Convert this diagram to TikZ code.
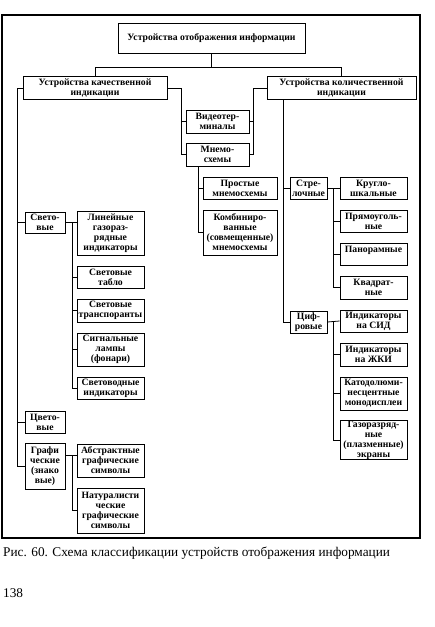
\documentclass[tikz,border=0pt]{standalone}
\usepackage{fontspec}
\setmainfont{Liberation Serif}
\newcommand{\boxfont}{\fontsize{9.7}{10}\selectfont\bfseries}
\tikzset{
  box/.style={draw, line width=0.8pt, fill=white, align=center, inner sep=0.5pt, font=\boxfont},
  link/.style={line width=0.8pt},
}

\begin{document}
\begin{tikzpicture}[x=1pt,y=-1pt]
  \useasboundingbox (0,0) rectangle (435,627);
  \draw[line width=2.5pt] (2,15) rectangle (420,538);

  % top levels
  \node[box, minimum width=187pt, minimum height=30pt] (top) at (211.5,38) {Устройства отображения информации};
  \node[box, minimum width=144pt, minimum height=23pt] (qual) at (95,88) {Устройства качественной\\индикации};
  \node[box, minimum width=149pt, minimum height=23pt] (quant) at (341.5,88) {Устройства количественной\\индикации};

  % middle column
  \node[box, minimum width=63pt, minimum height=23pt] (video) at (217.5,121.5) {Видеотер-\\миналы};
  \node[box, minimum width=63pt, minimum height=23pt] (mnemo) at (217.5,154.5) {Мнемо-\\схемы};
  \node[box, minimum width=74pt, minimum height=22pt] (prost) at (240,188) {Простые\\мнемосхемы};
  \node[box, minimum width=74pt, minimum height=45pt] (komb) at (240,232.5) {Комбиниро-\\ванные\\(совмещенные)\\мнемосхемы};

  % right column
  \node[box, minimum width=37pt, minimum height=22pt] (strel) at (308.5,188) {Стре-\\лочные};
  \node[box, minimum width=37pt, minimum height=22pt] (cifr) at (308.5,322) {Циф-\\ровые};
  \node[box, minimum width=67pt, minimum height=22pt] (krug) at (373.5,188) {Кругло-\\шкальные};
  \node[box, minimum width=67pt, minimum height=22pt] (pryam) at (373.5,221) {Прямоуголь-\\ные};
  \node[box, minimum width=67pt, minimum height=22pt] (panor) at (373.5,254) {Панорамные\\\phantom{ные}};
  \node[box, minimum width=67pt, minimum height=23pt] (kvadr) at (373.5,287.5) {Квадрат-\\ные};
  \node[box, minimum width=67pt, minimum height=22pt] (sid) at (373.5,321) {Индикаторы\\на СИД};
  \node[box, minimum width=67pt, minimum height=23pt] (zhki) at (373.5,354.5) {Индикаторы\\на ЖКИ};
  \node[box, minimum width=67pt, minimum height=33pt] (katod) at (373.5,393.5) {Катодолюми-\\несцентные\\монодисплеи};
  \node[box, minimum width=67pt, minimum height=39pt] (gazo) at (373.5,440) {Газоразряд-\\ные\\(плазменные)\\экраны};

  % left column
  \node[box, minimum width=40pt, minimum height=21pt] (svet) at (45,222.5) {Свето-\\вые};
  \node[box, minimum width=40pt, minimum height=22pt] (cvet) at (45,422) {Цвето-\\вые};
  \node[box, minimum width=40pt, minimum height=46pt] (graf) at (45,466) {Графи\\ческие\\(знако\\вые)};
  \node[box, minimum width=67pt, minimum height=44pt] (lin) at (110.5,233) {Линейные\\газораз-\\рядные\\индикаторы};
  \node[box, minimum width=67pt, minimum height=22pt] (tablo) at (110.5,277) {Световые\\табло};
  \node[box, minimum width=67pt, minimum height=23pt] (transp) at (110.5,310.5) {Световые\\транспоранты};
  \node[box, minimum width=67pt, minimum height=33pt] (signal) at (110.5,349.5) {Сигнальные\\лампы\\(фонари)};
  \node[box, minimum width=67pt, minimum height=22pt] (svetovod) at (110.5,388) {Световодные\\индикаторы};
  \node[box, minimum width=67pt, minimum height=33pt] (abstr) at (110.5,460.5) {Абстрактные\\графические\\символы};
  \node[box, minimum width=67pt, minimum height=45pt] (natur) at (110.5,510.5) {Натуралисти\\ческие\\графические\\символы};

  % trunk positions
  \coordinate (lt) at (17,0);
  \coordinate (lv) at (72,0);
  \coordinate (ct) at (181,0);
  \coordinate (mt) at (198,0);
  \coordinate (rt) at (253,0);
  \coordinate (qt) at (283,0);
  \coordinate (st) at (333,0);

  \draw[link] (top.south) -- ++(0,14) coordinate (jtop) -| (qual.north);
  \draw[link] (jtop) -| (quant.north);

  \draw[link] (qual.west) -| (lt |- graf.west) -- (graf.west);
  \draw[link] (lt |- svet.west) -- (svet.west);
  \draw[link] (lt |- cvet.west) -- (cvet.west);

  \draw[link] (qual.east) -| (ct |- mnemo.west) -- (mnemo.west);
  \draw[link] (ct |- video.west) -- (video.west);
  \draw[link] (quant.west) -| (rt |- mnemo.east) -- (mnemo.east);
  \draw[link] (rt |- video.east) -- (video.east);

  \draw[link] (mt |- mnemo.south) |- (komb.west);
  \draw[link] (mt |- prost.west) -- (prost.west);

  \draw[link] (qt |- quant.south) |- (cifr.west);
  \draw[link] (qt |- strel.west) -- (strel.west);

  \draw[link] (strel.east) -- (krug.west);
  \draw[link] (st |- krug.west) |- (kvadr.west);
  \draw[link] (st |- pryam.west) -- (pryam.west);
  \draw[link] (st |- panor.west) -- (panor.west);
  \draw[link] (cifr.east) -- (sid.west);
  \draw[link] (st |- sid.west) |- (gazo.west);
  \draw[link] (st |- zhki.west) -- (zhki.west);
  \draw[link] (st |- katod.west) -- (katod.west);

  \draw[link] (svet.east) -- (svet.east -| lin.west);
  \draw[link] (lv |- svet.east) |- (svetovod.west);
  \draw[link] (lv |- tablo.west) -- (tablo.west);
  \draw[link] (lv |- transp.west) -- (transp.west);
  \draw[link] (lv |- signal.west) -- (signal.west);

  \draw[link] ([yshift=11pt]graf.east) coordinate (jg) -- (jg -| abstr.west);
  \draw[link] (lv |- jg) |- (natur.west);

  % caption
  \node[anchor=west, inner sep=0pt, font=\fontsize{13.3}{15}\selectfont] (cap) at (3,553) {Рис. 60. Схема классификации устройств отображения информации};
  \node[anchor=west, inner sep=0pt, font=\fontsize{13.3}{15}\selectfont] (page) at (3,593) {138};
\end{tikzpicture}
\end{document}
